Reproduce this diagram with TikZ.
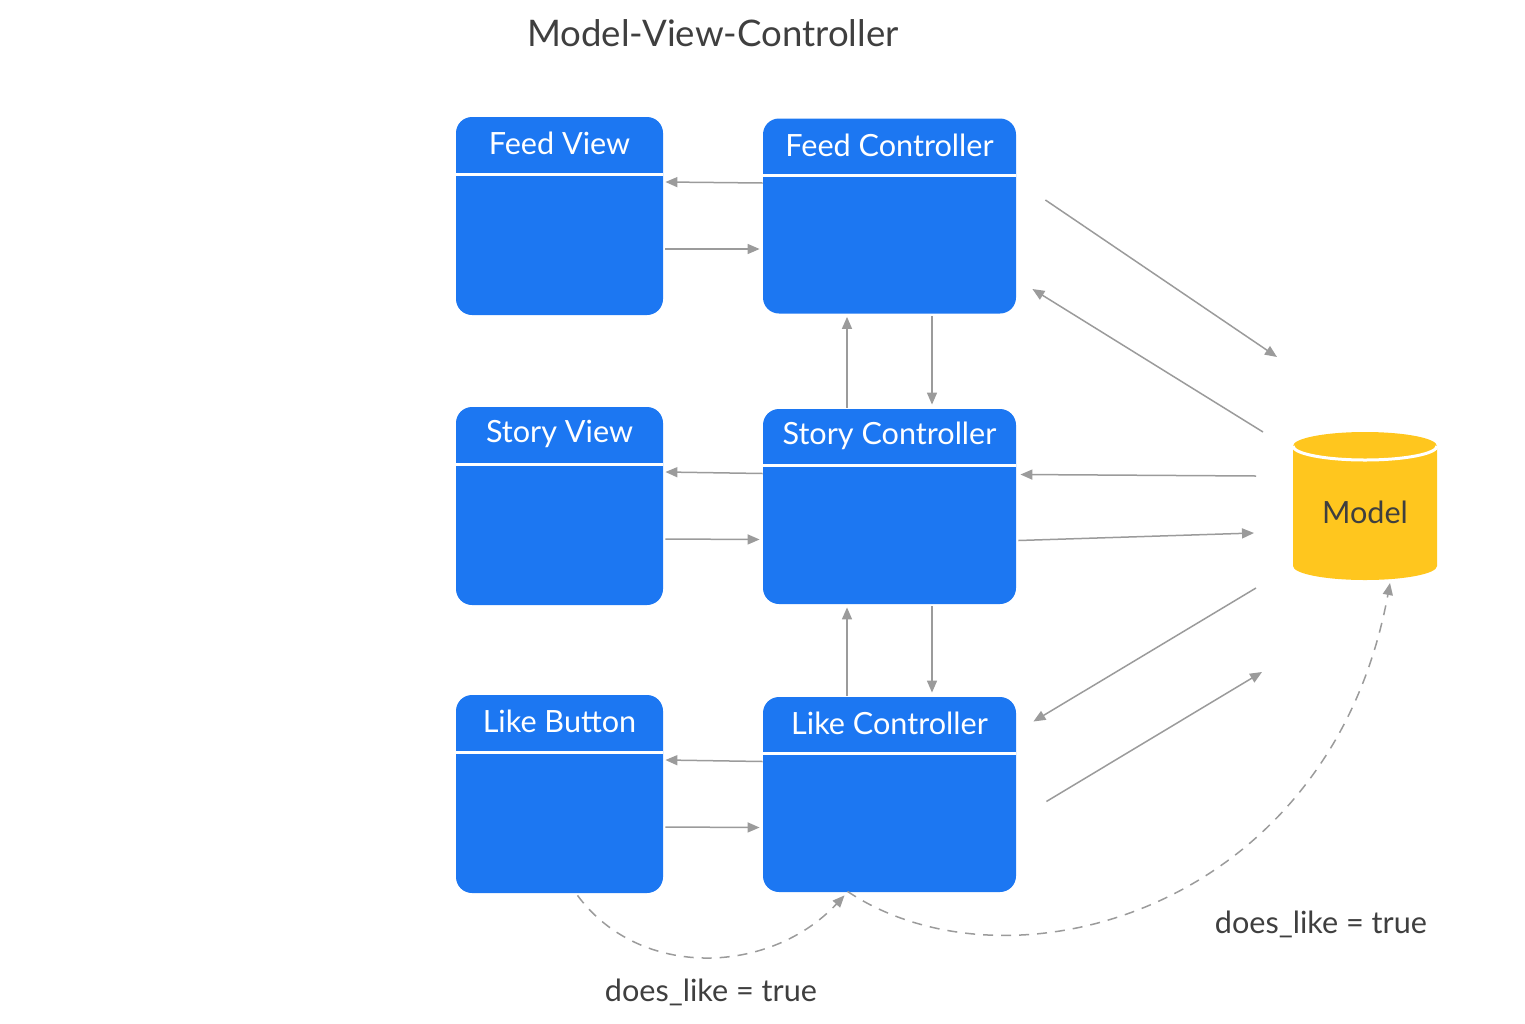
\documentclass[tikz,border=0pt]{standalone}
\usepackage{fontspec}
\setmainfont{Lato}
\usetikzlibrary{positioning,calc,arrows.meta}
\definecolor{boxblue}{HTML}{1C77F2}
\definecolor{dbyellow}{HTML}{FFC61E}
\definecolor{arrowgray}{HTML}{9B9B9B}
\definecolor{textgray}{HTML}{3F3F3F}

\begin{document}
\begin{tikzpicture}[x=0.5pt,y=-0.5pt,
		viewbox/.style={fill=boxblue, rounded corners=8pt, minimum width=103.5pt, minimum height=99pt, inner sep=0pt},
		ctrlbox/.style={viewbox, minimum width=126.5pt, minimum height=97.5pt},
		boxtitle/.style={text=white, font=\fontsize{15.3}{17}\selectfont},
		arr/.style={draw=arrowgray, line width=0.75pt, -{Triangle[length=6pt,width=5pt]}},
		dasharr/.style={arr, dash pattern=on 5pt off 4pt},
		lbl/.style={text=textgray, font=\fontsize{15.3}{17}\selectfont}]
	\useasboundingbox (0,0) rectangle (1525,1023);
	\node (title) [text=textgray, font=\fontsize{18.3}{21}\selectfont] at (713,33) {Model-View-Controller};
	% views and controllers
	\node (fv) [viewbox] at (559.5,216) {};
	\node (sv) [viewbox] at (559.5,506) {};
	\node (lb) [viewbox] at (559.5,794) {};
	\node (fc) [ctrlbox] at (889.5,216) {};
	\node (sc) [ctrlbox] at (889.5,506.5) {};
	\node (lc) [ctrlbox] at (889.5,794.5) {};
	\node (fvt) [boxtitle] at ($(fv.north)+(0,27)$) {Feed View};
	\node (svt) [boxtitle] at ($(sv.north)+(0,27)$) {Story View};
	\node (lbt) [boxtitle] at ($(lb.north)+(0,27)$) {Like Button};
	\node (fct) [boxtitle] at ($(fc.north)+(0,27)$) {Feed Controller};
	\node (sct) [boxtitle] at ($(sc.north)+(0,27)$) {Story Controller};
	\node (lct) [boxtitle] at ($(lc.north)+(0,27)$) {Like Controller};
	\foreach \b in {fv,sv,lb}
		\draw[white, line width=1.5pt] ($(\b.north west)+(0,58)$) -- ($(\b.north east)+(0,58)$);
	\foreach \b in {fc,sc,lc}
		\draw[white, line width=1.5pt] ($(\b.north west)+(0,57)$) -- ($(\b.north east)+(0,57)$);
	% model
	\fill[dbyellow] (1293,446) -- (1293,566) arc[start angle=180, end angle=0, x radius=72, y radius=14]
		-- (1437,446) -- cycle;
	\fill[dbyellow] (1365,446) ellipse[x radius=72, y radius=14];
	\draw[white, line width=1.5pt] (1293,446) arc[start angle=180, end angle=0, x radius=72, y radius=14];
	\node (model) [text=textgray, font=\fontsize{15.3}{17}\selectfont] at (1365,512) {Model};
	\coordinate (m1) at (1277,357);
	\coordinate (m2) at (1263,432);
	\coordinate (m3) at (1256,476);
	\coordinate (m4) at (1254,533);
	\coordinate (m5) at (1256,588);
	\coordinate (m6) at (1262,672);
	\coordinate (m7) at (1390,583);
	% horizontal arrows
	\foreach \v/\c in {fv/fc,sv/sc,lb/lc} {
		\draw[arr] ($(\c.west)+(0,-33)$) -- ($(\v.east)+(2,-34)$);
		\draw[arr] ($(\v.east)+(2,33)$) -- ($(\c.west)+(-3,33)$);
	}
	% vertical arrows
	\draw[arr] ($(sc.north)+(-42.5,-1)$) -- ($(fc.south)+(-42.5,3)$);
	\draw[arr] ($(fc.south)+(42.5,2)$) -- ($(sc.north)+(42.5,-4)$);
	\draw[arr] ($(lc.north)+(-42.5,-1)$) -- ($(sc.south)+(-42.5,3)$);
	\draw[arr] ($(sc.south)+(42.5,2)$) -- ($(lc.north)+(42.5,-4)$);
	% to and from the model
	\draw[arr] ($(fc.east)+(29,-16)$) -- (m1);
	\draw[arr] (m2) -- ($(fc.east)+(16,73)$);
	\draw[arr] (m3) -- ($(sc.east)+(4,-32)$);
	\draw[arr] ($(sc.east)+(2,34)$) -- (m4);
	\draw[arr] (m5) -- ($(lc.east)+(17,-73)$);
	\draw[arr] ($(lc.east)+(30,7)$) -- (m6);
	% does_like
	\draw[dasharr] ($(lb.south)+(18,2)$) .. controls (640,980) and (770,975) .. ($(lc.south)+(-45,3)$);
	\draw[dasharr] ($(lc.south)+(-42,-1)$) .. controls (1010,1000) and (1330,910) .. (m7);
	\node (like1) [lbl] at (711,992) {does\_like = true};
	\node (like2) [lbl] at (1321,924) {does\_like = true};
\end{tikzpicture}
\end{document}
